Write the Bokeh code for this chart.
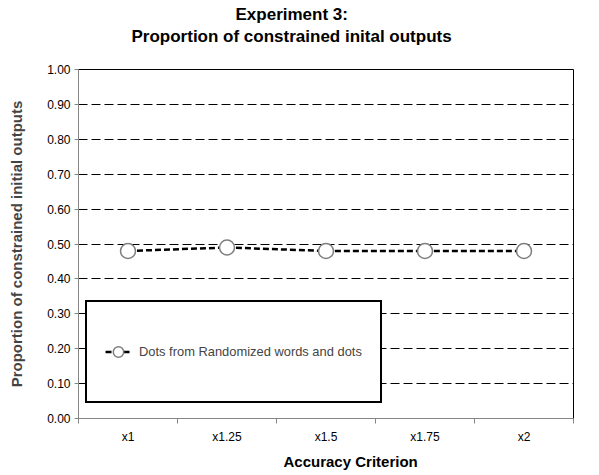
from bokeh.plotting import figure
from bokeh.models import (ColumnDataSource, FixedTicker, Legend, LegendItem, Title,
                          NumeralTickFormatter, Range1d)
from bokeh.embed import file_html
from bokeh.resources import INLINE

# ---- data ----
categories = ["x1", "x1.25", "x1.5", "x1.75", "x2"]
values = [0.48, 0.49, 0.48, 0.48, 0.48]
series_name = "Dots from Randomized words and dots"
y_ticks = [0.0, 0.1, 0.2, 0.3, 0.4, 0.5, 0.6, 0.7, 0.8, 0.9, 1.0]
grid_ticks = [0.1, 0.2, 0.3, 0.4, 0.5, 0.6, 0.7, 0.8, 0.9]
title_line1 = "Experiment 3:"
title_line2 = "Proportion of constrained inital outputs"
x_title = "Accuracy Criterion"
y_title = "Proportion of constrained initial outputs"

FONT = "Liberation Sans"
positions = list(range(1, len(categories) + 1))
boundaries = [i + 0.5 for i in range(len(categories) + 1)]
src = ColumnDataSource(dict(x=positions, y=values))

p = figure(width=599, height=475, output_backend="svg", toolbar_location=None,
           x_range=Range1d(0.5, len(categories) + 0.5), y_range=Range1d(0, 1),
           min_border_left=78, min_border_right=26, min_border_top=69, min_border_bottom=57,
           background_fill_color="white", border_fill_color="white")

p.outline_line_color = "black"
p.outline_line_width = 1

# titles
t2 = Title(text=title_line2, align="left", offset=53, text_font=FONT,
           text_font_size="17px", text_font_style="bold", text_color="black", standoff=48)
t1 = Title(text=title_line1, align="left", offset=157, text_font=FONT,
           text_font_size="17px", text_font_style="bold", text_color="black", standoff=-46)
p.add_layout(t2, "above")
p.add_layout(t1, "above")

xt = Title(text=x_title, align="left", offset=205, text_font=FONT,
           text_font_size="15px", text_font_style="bold", text_color="black", standoff=8)
p.add_layout(xt, "below")

# grid
p.xgrid.visible = False
p.ygrid.ticker = FixedTicker(ticks=grid_ticks)
p.ygrid.grid_line_color = "black"
p.ygrid.grid_line_dash = "9 4"
p.ygrid.grid_line_width = 1

# axes
p.yaxis.ticker = FixedTicker(ticks=y_ticks)
p.yaxis.formatter = NumeralTickFormatter(format="0.00")
p.yaxis.axis_label = y_title
p.yaxis.axis_label_text_font = FONT
p.yaxis.axis_label_text_font_size = "15px"
p.yaxis.axis_label_text_font_style = "bold"
p.yaxis.axis_label_standoff = 19
p.yaxis.major_tick_out = 4
p.yaxis.major_tick_in = 0
p.yaxis.minor_tick_out = 0
p.yaxis.minor_tick_in = 0
p.yaxis.major_label_standoff = 4

p.xaxis.ticker = FixedTicker(ticks=positions, minor_ticks=boundaries)
p.xaxis.major_label_overrides = {pos: cat for pos, cat in zip(positions, categories)}
p.xaxis.major_tick_out = 0
p.xaxis.major_tick_in = 0
p.xaxis.minor_tick_out = 5
p.xaxis.minor_tick_in = 0
p.xaxis.major_label_standoff = 6

for ax in (p.xaxis, p.yaxis):
    ax.axis_line_color = "#868686"
    ax.major_tick_line_color = "#868686"
    ax.minor_tick_line_color = "#868686"
    ax.major_label_text_font = FONT
    ax.major_label_text_font_size = "12px"
    ax.major_label_text_color = "black"

# series
r_line = p.line("x", "y", source=src, line_color="black", line_width=2.5, line_dash="6 3")
r_pts = p.scatter("x", "y", source=src, marker="circle", size=15, fill_color="white",
                  line_color="#7f7f7f", line_width=1.5)

legend = Legend(items=[LegendItem(label=series_name, renderers=[r_line, r_pts])],
                location=(7, 15), margin=0, padding=18,
                border_line_color="black", border_line_width=2, border_line_alpha=1.0,
                background_fill_color="white", background_fill_alpha=1,
                glyph_width=26, glyph_height=63, label_height=63, label_standoff=8,
                label_text_font=FONT, label_text_font_size="12.9px")
p.add_layout(legend)

open("out.html", "w").write(file_html(p, INLINE))
